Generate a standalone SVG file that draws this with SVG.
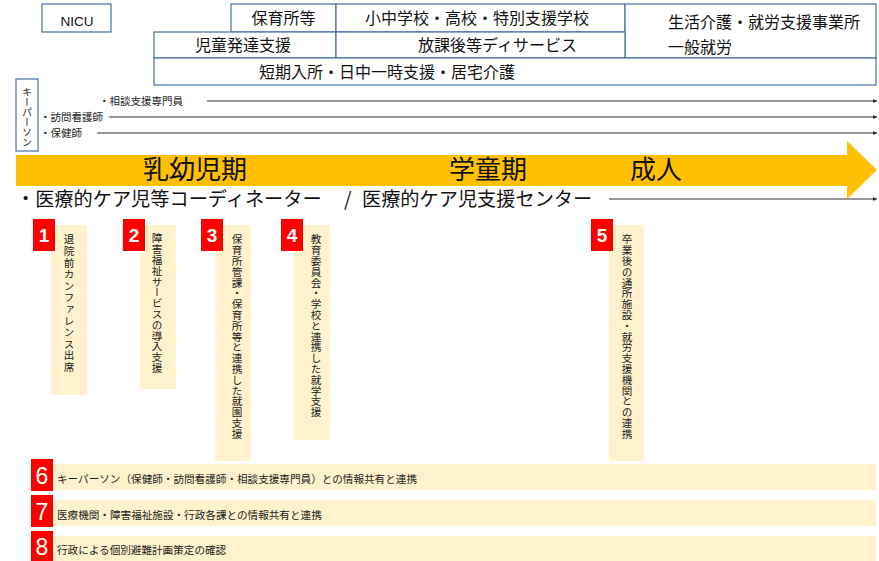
<svg xmlns="http://www.w3.org/2000/svg" width="879" height="561" viewBox="0 0 879 561">
<defs>
<style>
.bx{fill:#fff;stroke:#4a6fa5;stroke-width:1.2}
.jp{font-family:"Noto Sans CJK JP","Noto Sans",sans-serif;fill:#111}
.t16{font-size:16px}
.sm{font-size:10.5px;fill:#222}
.ln{stroke:#333;stroke-width:1;fill:none;marker-end:url(#ah)}
.beige{fill:#FFF2CC}
.red{fill:#FF0000}
.num{font-family:"Liberation Sans",Arial,sans-serif;font-weight:bold;font-size:19px;fill:#fff;text-anchor:middle}
.num2{font-family:"Liberation Sans",Arial,sans-serif;font-size:23px;fill:#fff;text-anchor:middle}
.vt{font-family:"Noto Sans CJK JP",sans-serif;font-size:10.6px;fill:#222;writing-mode:vertical-rl;letter-spacing:0.2px}
.bt{font-family:"Noto Sans CJK JP",sans-serif;font-size:10.6px;fill:#222}
.ph{font-family:"Noto Sans CJK JP",sans-serif;font-size:26px;fill:#111}
</style>
<marker id="ah" viewBox="0 0 6 6" refX="6" refY="3" markerWidth="4" markerHeight="4" orient="auto" markerUnits="userSpaceOnUse"><path d="M0,0L6,3L0,6z" fill="#333"/></marker>
</defs>
<rect width="879" height="561" fill="#fff"/>

<g id="nicu"><rect class="bx" x="42" y="4" width="69" height="28"/><text x="77" y="26" font-family="Liberation Sans,Arial,sans-serif" font-size="13.5" text-anchor="middle" fill="#111">NICU</text></g>
<g id="hoikusho"><rect class="bx" x="231" y="4" width="105" height="28"/><text class="jp t16" x="283.5" y="24" text-anchor="middle">保育所等</text></g>
<g id="school"><rect class="bx" x="336" y="4" width="289" height="28"/><text class="jp t16" x="365" y="24">小中学校・高校・特別支援学校</text></g>
<g id="seikatsu"><rect class="bx" x="625" y="4" width="251" height="54"/><text class="jp t16" x="668" y="28">生活介護・就労支援事業所</text><text class="jp t16" x="668" y="53">一般就労</text></g>
<g id="jido"><rect class="bx" x="154" y="32" width="182" height="26"/><text class="jp t16" x="243" y="51" text-anchor="middle">児童発達支援</text></g>
<g id="houkago"><rect class="bx" x="336" y="32" width="289" height="26"/><text class="jp t16" x="418" y="51">放課後等ディサービス</text></g>
<g id="tanki"><rect class="bx" x="154" y="58" width="722" height="27"/><text class="jp t16" x="259" y="78">短期入所・日中一時支援・居宅介護</text></g>

<g id="keyperson"><rect class="bx" x="16" y="79" width="22" height="72"/><text x="27" y="87" font-family="Noto Sans CJK JP,sans-serif" font-size="10" fill="#222" style="writing-mode:vertical-rl">キーパーソン</text></g>
<g id="kp-labels">
<text class="jp sm" x="99" y="105">・相談支援専門員</text>
<text class="jp sm" x="40" y="121">・訪問看護師</text>
<text class="jp sm" x="40" y="137">・保健師</text>
</g>

<g id="timeline"><polygon points="16,155 847,155 847,141 877,170 847,199 847,186 16,186" fill="#FFC000"/>
<text class="ph" x="143" y="179">乳幼児期</text>
<text class="ph" x="449" y="179">学童期</text>
<text class="ph" x="630" y="179">成人</text>
</g>

<g id="coordinator"><text class="jp" font-size="19.2" x="16" y="206">・医療的ケア児等コーディネーター<tspan x="344">/</tspan><tspan x="362">医療的ケア児支援センター</tspan></text></g>

<g id="connectors">
<line class="ln" x1="207" y1="101" x2="877" y2="101"/>
<line class="ln" x1="109" y1="117" x2="877" y2="117"/>
<line class="ln" x1="97" y1="133" x2="877" y2="133"/>
<line class="ln" x1="609" y1="199" x2="877" y2="199"/>
</g>

<g id="step1"><rect class="beige" x="51" y="225" width="36" height="170"/><rect class="red" x="33" y="219" width="22" height="32"/><text class="num" x="44" y="242">1</text><text class="vt" x="69" y="234" style="letter-spacing:1px">退院前カンファレンス出席</text></g>
<g id="step2"><rect class="beige" x="140" y="225" width="36" height="164"/><rect class="red" x="123" y="219" width="22" height="32"/><text class="num" x="134" y="242">2</text><text class="vt" x="157" y="233">障害福祉サービスの導入支援</text></g>
<g id="step3"><rect class="beige" x="215" y="225" width="36" height="236"/><rect class="red" x="201" y="219" width="22" height="32"/><text class="num" x="212" y="242">3</text><text class="vt" x="237" y="234">保育所管課・保育所等と連携した就園支援</text></g>
<g id="step4"><rect class="beige" x="294" y="225" width="36" height="215"/><rect class="red" x="281" y="219" width="22" height="32"/><text class="num" x="292" y="242">4</text><text class="vt" x="316" y="234">教育委員会・学校と連携した就学支援</text></g>
<g id="step5"><rect class="beige" x="609" y="225" width="35" height="236"/><rect class="red" x="591" y="219" width="22" height="32"/><text class="num" x="602" y="242">5</text><text class="vt" x="627" y="234">卒業後の通所施設・就労支援機関との連携</text></g>

<g id="step6"><rect class="beige" x="53" y="464" width="823" height="26"/><rect class="red" x="31" y="459" width="22" height="32"/><text class="num2" x="42" y="484">6</text><text class="bt" x="57" y="483">キーパーソン（保健師・訪問看護師・相談支援専門員）との情報共有と連携</text></g>
<g id="step7"><rect class="beige" x="53" y="500" width="823" height="26"/><rect class="red" x="31" y="495" width="22" height="32"/><text class="num2" x="42" y="520">7</text><text class="bt" x="57" y="519">医療機関・障害福祉施設・行政各課との情報共有と連携</text></g>
<g id="step8"><rect class="beige" x="53" y="536" width="823" height="25"/><rect class="red" x="31" y="531" width="22" height="30"/><text class="num2" x="42" y="555">8</text><text class="bt" x="57" y="554">行政による個別避難計画策定の確認</text></g>
</svg>
